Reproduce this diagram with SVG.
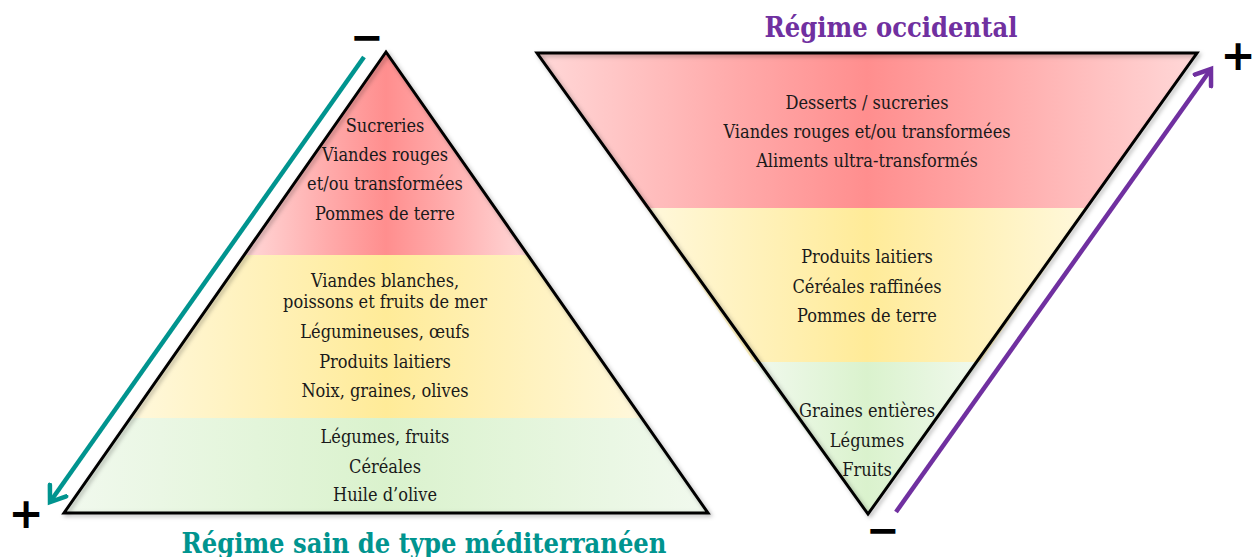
<svg xmlns="http://www.w3.org/2000/svg" width="1258" height="557" viewBox="0 0 1258 557">
<style>
.t{font-family:"DejaVu Serif Condensed","Liberation Serif",serif;font-size:18px;fill:#1a1a1a;text-anchor:middle}
.title{font-family:"DejaVu Serif Condensed","Liberation Serif",serif;font-weight:bold;font-size:27px;text-anchor:middle}
.sign{font-family:"DejaVu Sans","Liberation Sans",sans-serif;font-weight:bold;fill:#000;text-anchor:middle}
.outline{fill:none;stroke:#000;stroke-width:3;stroke-linejoin:miter}
</style>
<defs>
<linearGradient id="gRed" x1="0" y1="0" x2="1" y2="0">
<stop offset="0" stop-color="#ffd8d8"/><stop offset="0.3" stop-color="#ffaaaa"/><stop offset="0.5" stop-color="#ff8e8e"/><stop offset="0.7" stop-color="#ffaaaa"/><stop offset="1" stop-color="#ffd8d8"/>
</linearGradient>
<linearGradient id="gYel" x1="0" y1="0" x2="1" y2="0">
<stop offset="0" stop-color="#fff8dc"/><stop offset="0.3" stop-color="#fff0b4"/><stop offset="0.5" stop-color="#ffeb98"/><stop offset="0.7" stop-color="#fff0b4"/><stop offset="1" stop-color="#fff8dc"/>
</linearGradient>
<linearGradient id="gGrn" x1="0" y1="0" x2="1" y2="0">
<stop offset="0" stop-color="#f1f9ee"/><stop offset="0.3" stop-color="#e3f5da"/><stop offset="0.5" stop-color="#daf2cd"/><stop offset="0.7" stop-color="#e3f5da"/><stop offset="1" stop-color="#f1f9ee"/>
</linearGradient>
<filter id="sh" x="-10%" y="-10%" width="120%" height="120%">
<feDropShadow dx="2" dy="2" stdDeviation="2" flood-color="#000" flood-opacity="0.3"/>
</filter>
<marker id="mTeal" markerUnits="userSpaceOnUse" markerWidth="30" markerHeight="30" refX="16" refY="12" orient="auto" viewBox="0 0 30 24">
<path d="M2,2 L16,12 L2,22" fill="none" stroke="#00948f" stroke-width="4.5" stroke-linecap="round" stroke-linejoin="miter"/>
</marker>
<marker id="mPurp" markerUnits="userSpaceOnUse" markerWidth="30" markerHeight="30" refX="16" refY="12" orient="auto" viewBox="0 0 30 24">
<path d="M2,2 L16,12 L2,22" fill="none" stroke="#7030a0" stroke-width="4.5" stroke-linecap="round" stroke-linejoin="miter"/>
</marker>
</defs>
<rect width="1258" height="557" fill="#fff"/>

<g id="pyramide-mediterraneenne">
<g id="med-rouge">
<polygon points="386,52 244,255 528,255" fill="url(#gRed)"/>
<text class="t" x="385" y="132">Sucreries</text>
<text class="t" x="385" y="161">Viandes rouges</text>
<text class="t" x="385" y="190">et/ou transformées</text>
<text class="t" x="385" y="220">Pommes de terre</text>
</g>
<g id="med-jaune">
<polygon points="244,255 528,255 642,418 130,418" fill="url(#gYel)"/>
<text class="t" x="385" y="287">Viandes blanches,</text>
<text class="t" x="385" y="308">poissons et fruits de mer</text>
<text class="t" x="385" y="338">Légumineuses, œufs</text>
<text class="t" x="385" y="368">Produits laitiers</text>
<text class="t" x="385" y="397">Noix, graines, olives</text>
</g>
<g id="med-vert">
<polygon points="130,418 642,418 708,513 64,513" fill="url(#gGrn)"/>
<text class="t" x="385" y="443">Légumes, fruits</text>
<text class="t" x="385" y="473">Céréales</text>
<text class="t" x="385" y="501">Huile d’olive</text>
</g>
<polygon class="outline" points="386,52 708,513 64,513" filter="url(#sh)"/>
<text class="title" x="424" y="553" fill="#00948f" font-size="28.3">Régime sain de type méditerranéen</text>
</g>

<g id="pyramide-occidentale">
<g id="occ-rouge">
<polygon points="537,53 1197,53 1088,208 646,208" fill="url(#gRed)"/>
<text class="t" x="867" y="109">Desserts / sucreries</text>
<text class="t" x="867" y="138">Viandes rouges et/ou transformées</text>
<text class="t" x="867" y="167">Aliments ultra-transformés</text>
</g>
<g id="occ-jaune">
<polygon points="646,208 1088,208 980,362 754,362" fill="url(#gYel)"/>
<text class="t" x="867" y="263">Produits laitiers</text>
<text class="t" x="867" y="293">Céréales raffinées</text>
<text class="t" x="867" y="322">Pommes de terre</text>
</g>
<g id="occ-vert">
<polygon points="754,362 980,362 868,514" fill="url(#gGrn)"/>
<text class="t" x="867" y="417">Graines entières</text>
<text class="t" x="867" y="447">Légumes</text>
<text class="t" x="867" y="476">Fruits</text>
</g>
<polygon class="outline" points="537,53 1197,53 868,514" filter="url(#sh)"/>
<text class="title" x="891" y="37" fill="#7030a0">Régime occidental</text>
</g>

<g id="connecteurs">
<line x1="364" y1="57" x2="50" y2="502" stroke="#00948f" stroke-width="4.5" marker-end="url(#mTeal)"/>
<line x1="896" y1="512" x2="1211" y2="69" stroke="#7030a0" stroke-width="4.5" marker-end="url(#mPurp)"/>
</g>

<g id="signes">
<text class="sign" x="367" y="51" font-size="40">−</text>
<text class="sign" x="26" y="528" font-size="42">+</text>
<text class="sign" x="1238" y="70" font-size="42">+</text>
<text class="sign" x="883" y="544" font-size="40">−</text>
</g>
</svg>
